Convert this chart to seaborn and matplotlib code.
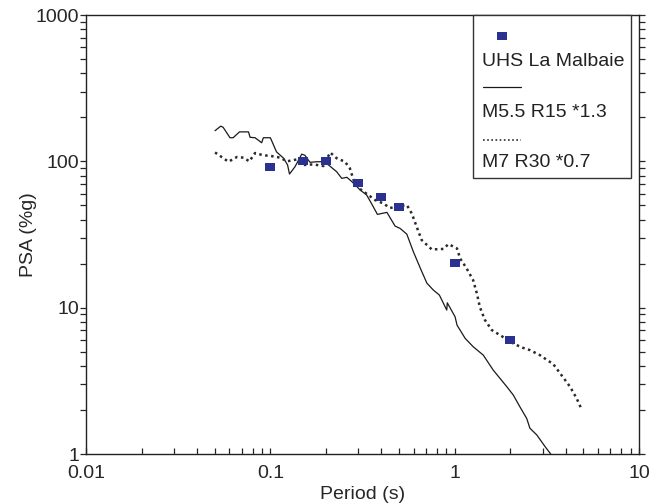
import matplotlib
matplotlib.use("Agg")
import matplotlib.pyplot as plt
import matplotlib.ticker as mticker
from matplotlib.patches import Rectangle
import pandas as pd
import seaborn as sns

# UHS La Malbaie (blue squares)
uhs_period = [0.1, 0.15, 0.2, 0.3, 0.4, 0.5, 1.0, 2.0]
uhs_psa = [91, 100, 100, 71, 57, 48.5, 20.3, 6.0]

# M5.5 R15 *1.3 (solid line)
m55_period = [0.0501, 0.0538, 0.0554, 0.0604, 0.0628, 0.0680, 0.0761, 0.0776, 0.0826, 0.0897,
              0.0916, 0.100, 0.108, 0.118, 0.124, 0.127, 0.136, 0.148, 0.154, 0.164,
              0.179, 0.194, 0.207, 0.229, 0.244, 0.260, 0.277, 0.307, 0.333, 0.355,
              0.381, 0.429, 0.475, 0.506, 0.550, 0.597, 0.655, 0.707, 0.766, 0.826,
              0.906, 0.912, 1.005, 1.03, 1.14, 1.26, 1.43, 1.62, 1.92, 2.08,
              2.26, 2.46, 2.56, 2.79, 3.10, 3.32, 3.6]
m55_psa = [162, 174, 171, 145, 145, 159, 159, 146, 145, 134,
           145, 145, 116, 105, 94.4, 81.9, 91.8, 112, 110, 98.5,
           99.4, 99.4, 94.4, 84.9, 76.5, 77.8, 72.6, 63.7, 58.9, 51.1,
           43.4, 44.8, 36.1, 34.8, 31.8, 24.1, 18.3, 14.7, 13.2, 12.2,
           9.63, 10.8, 8.67, 7.60, 6.17, 5.41, 4.74, 3.74, 2.88, 2.53,
           2.10, 1.75, 1.50, 1.35, 1.12, 1.0, 0.85]

# M7 R30 *0.7 (dotted line)
m7_period = [0.0501, 0.0533, 0.0592, 0.0658, 0.0715, 0.0769, 0.0826, 0.0916, 0.100, 0.113,
             0.123, 0.139, 0.151, 0.171, 0.194, 0.211, 0.229, 0.254, 0.270, 0.284,
             0.307, 0.340, 0.370, 0.410, 0.446, 0.506, 0.550, 0.585, 0.622, 0.662,
             0.751, 0.869, 0.925, 1.03, 1.07, 1.16, 1.26, 1.32, 1.37, 1.46,
             1.59, 1.76, 2.08, 2.31, 2.56, 2.90, 3.43, 3.83, 4.23, 4.59, 4.90]
m7_psa = [115, 109, 99.4, 107, 106, 100, 114, 110, 109, 106,
          100, 103, 94.4, 95.3, 92.9, 115, 105, 99.4, 89.6, 73.3,
          64.7, 58.9, 54.4, 51.6, 48.0, 49.5, 50.3, 44.1, 35.7, 29.0,
          25.0, 25.2, 27.2, 25.4, 21.7, 18.6, 15.4, 12.5, 10.1, 8.23,
          7.03, 6.50, 5.70, 5.35, 5.13, 4.74, 4.11, 3.41, 2.88, 2.40, 2.0]

legend_labels = ["UHS La Malbaie", "M5.5 R15 *1.3", "M7 R30 *0.7"]

sns.set_style("ticks")
plt.rcParams["font.family"] = ["Liberation Sans", "DejaVu Sans"]
plt.rcParams["font.size"] = 14

blue = "#2b3190"
rect = [(-1, -0.72), (1, -0.72), (1, 0.72), (-1, 0.72), (-1, -0.72)]

fig = plt.figure(figsize=(6.52, 5.04), dpi=100)
ax = fig.add_axes([0.132, 0.0992, 0.848, 0.871])

sns.lineplot(x=m55_period, y=m55_psa, sort=False, estimator=None, ax=ax,
             color="#1a1a1a", linewidth=0.9)
sns.lineplot(x=m7_period, y=m7_psa, sort=False, estimator=None, ax=ax,
             color="#2a2a2a", linewidth=1.8, linestyle=(0, (1, 1.4)))
sns.scatterplot(x=uhs_period, y=uhs_psa, ax=ax, marker=rect, s=56,
                color=blue, linewidth=0, zorder=5)

ax.set_xscale("log")
ax.set_yscale("log")
ax.set_xlim(0.01, 10)
ax.set_ylim(1, 1000)
fmt = mticker.FuncFormatter(lambda v, p: f"{v:g}")
ax.xaxis.set_major_formatter(fmt)
ax.yaxis.set_major_formatter(fmt)
ax.xaxis.set_minor_formatter(mticker.NullFormatter())
ax.yaxis.set_minor_formatter(mticker.NullFormatter())

for s in ax.spines.values():
    s.set_visible(True)
    s.set_linewidth(1.0)
    s.set_color("#222222")
ax.tick_params(axis="y", which="both", direction="out", length=4, width=0.9,
               left=True, right=True, pad=1, labelsize=14)
ax.tick_params(axis="x", which="both", direction="in", length=4, width=0.9,
               pad=8, labelsize=14)

ax.set_xlabel("Period (s)", fontsize=14, labelpad=3)
ax.set_ylabel("PSA (%g)", fontsize=14, labelpad=-1)

# legend box drawn by hand (marker/line sample above each label)
ax.add_patch(Rectangle((0.700, 0.6287), 0.2855, 0.3713, transform=ax.transAxes,
                       facecolor="white", edgecolor="#333333", linewidth=1.0,
                       zorder=6, clip_on=False))
ax.plot([0.752], [0.952], transform=ax.transAxes, marker=rect, markersize=7.5,
        color=blue, markeredgewidth=0, linestyle="none", zorder=7, clip_on=False)
ax.plot([0.718, 0.787], [0.836, 0.836], transform=ax.transAxes, color="#1a1a1a",
        linewidth=0.9, zorder=7, clip_on=False)
ax.plot([0.718, 0.787], [0.715, 0.715], transform=ax.transAxes, color="#2a2a2a",
        linewidth=1.2, linestyle=(0, (1, 1.5)), zorder=7, clip_on=False)
for yy, lab in zip([0.893, 0.779, 0.663], legend_labels):
    ax.text(0.716, yy, lab, transform=ax.transAxes, ha="left", va="center",
            fontsize=14, color="#222222", zorder=8)

fig.savefig("out.png", dpi=100)
